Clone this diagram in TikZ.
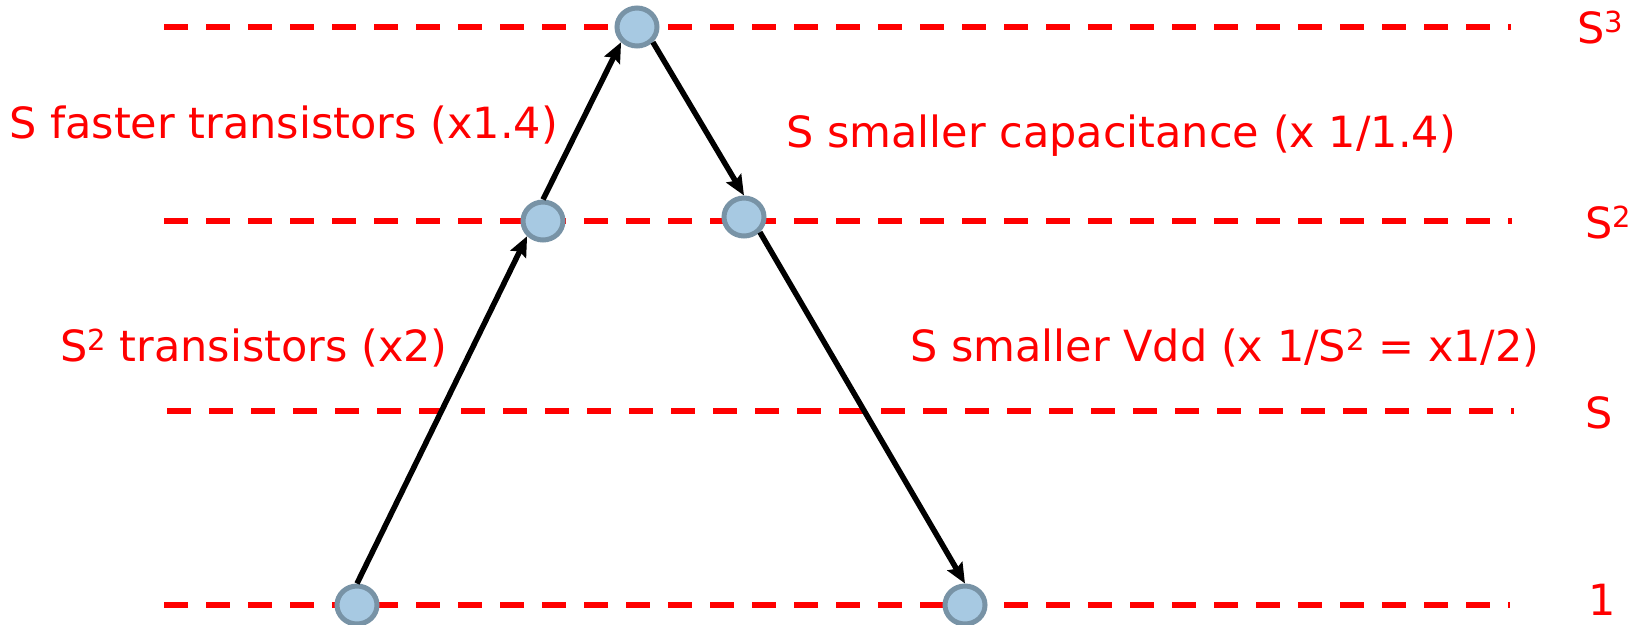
\documentclass[tikz,border=0pt]{standalone}
\usepackage{fontspec}
\setmainfont{DejaVu Sans}
\usetikzlibrary{arrows.meta,shapes.geometric}
\definecolor{nodefill}{HTML}{A7C9E2}
\definecolor{nodeedge}{HTML}{7893A6}
\newcommand{\supr}[1]{\raisebox{11pt}{\fontsize{29}{29}\selectfont #1}}
\begin{document}
\begin{tikzpicture}[x=1pt,y=-1pt,
  level/.style={draw=red, line width=6pt, dash pattern=on 24pt off 18pt},
  dot/.style={ellipse, draw=nodeedge, fill=nodefill, line width=5pt, minimum width=40pt, minimum height=38pt, inner sep=0pt},
  arr/.style={draw=black, line width=5.5pt, -{Stealth[length=20pt,width=17pt,inset=3pt]}},
  lbl/.style={text=red, font=\fontsize{43}{50}\selectfont, inner sep=0pt, anchor=base west}]
\useasboundingbox (0,0) rectangle (1640,624);
\draw[level] (164,27) -- (1511,27);
\draw[level] (164,221) -- (1512,221);
\draw[level] (167,411) -- (1514,411);
\draw[level] (164,605) -- (1510,605);
\node[dot] (top) at (637,27) {};
\node[dot] (s2l) at (543,221) {};
\node[dot] (s2r) at (744,217) {};
\node[dot] (b1) at (357,605) {};
\node[dot] (b2) at (965,605) {};
\draw[arr] (b1.north) -- (s2l.south west);
\draw[arr] (s2l.north) -- (top.south west);
\draw[arr] (top.south east) -- (s2r.north);
\draw[arr] (s2r.south east) -- (b2.north);
\node[lbl] (t1) at (9,138) {S faster transistors (x1.4)};
\node[lbl] (t2) at (786,147) {S smaller capacitance (x 1/1.4)};
\node[lbl] (t3) at (60,361) {S\supr{2} transistors (x2)};
\node[lbl] (t4) at (910,361) {S smaller Vdd (x 1/S\supr{2} = x1/2)};
\node[lbl] (r3) at (1577,43) {S\supr{3}};
\node[lbl] (r2) at (1585,238) {S\supr{2}};
\node[lbl] (r1) at (1585,428) {S};
\node[lbl] (r0) at (1588,615) {1};
\end{tikzpicture}
\end{document}
